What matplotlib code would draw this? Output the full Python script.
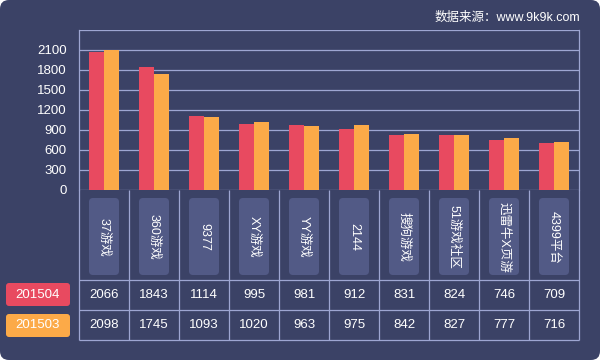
import matplotlib
matplotlib.use("Agg")
import matplotlib.pyplot as plt
from matplotlib.patches import FancyBboxPatch, Rectangle
import numpy as np

categories = ["37游戏", "360游戏", "9377", "XY游戏", "YY游戏", "2144", "搜狗游戏", "51游戏社区", "迅雷牛X页游", "4399平台"]
series_names = ["201504", "201503"]
values_201504 = [2066, 1843, 1114, 995, 981, 912, 831, 824, 746, 709]
values_201503 = [2098, 1745, 1093, 1020, 963, 975, 842, 827, 777, 716]
y_ticks = [0, 300, 600, 900, 1200, 1500, 1800, 2100]
source_text = "数据来源：www.9k9k.com"

BG = "#3b4266"
RED = "#e84a60"
ORANGE = "#fcaa48"
GRID = "#9ea6d2"
BOX = "#525a86"
FONT = ["Liberation Sans", "Noto Sans CJK SC", "DejaVu Sans"]
plt.rcParams["font.family"] = FONT

W, H = 600, 360
fig = plt.figure(figsize=(6, 3.6), dpi=100, facecolor="white")

# background axes in pixel coordinates
bg = fig.add_axes([0, 0, 1, 1])
bg.set_xlim(0, W)
bg.set_ylim(H, 0)
bg.axis("off")
bg.add_patch(FancyBboxPatch((0, 0), W, H, boxstyle="round,pad=0,rounding_size=9",
                            fc=BG, ec="none"))

L, R, TOP, BASE = 79, 579, 30, 190
ROW1, ROW2, ROW3 = 280, 310, 340
n = len(categories)
colw = (R - L) / n

# table lines
for yy in [ROW1, ROW2, ROW3]:
    bg.plot([L, R], [yy, yy], color=GRID, lw=0.9, solid_capstyle="butt")
for i in range(n + 1):
    x = L + i * colw
    bg.plot([x, x], [BASE, ROW3], color=GRID, lw=0.9, solid_capstyle="butt")

# category label boxes and texts
for i, cat in enumerate(categories):
    cx = L + (i + 0.5) * colw
    bg.add_patch(FancyBboxPatch((cx - 15, 198), 30, 77,
                                boxstyle="round,pad=0,rounding_size=4",
                                fc=BOX, ec="none"))
    bg.text(cx, 237, cat, rotation=-90, ha="center", va="center",
            color="white", fontsize=9, family=FONT)
    bg.text(cx, (ROW1 + ROW2) / 2, str(values_201504[i]), ha="center", va="center",
            color="white", fontsize=9.5)
    bg.text(cx, (ROW2 + ROW3) / 2, str(values_201503[i]), ha="center", va="center",
            color="white", fontsize=9.5)

# legend boxes
for (y0, col, name) in [(283, RED, series_names[0]), (314, ORANGE, series_names[1])]:
    bg.add_patch(FancyBboxPatch((6, y0), 64, 23, boxstyle="round,pad=0,rounding_size=3",
                                fc=col, ec="none"))
    bg.text(38, y0 + 11.5, name, ha="center", va="center", color="white", fontsize=9.5)

bg.text(580, 18, source_text, ha="right", va="center", color="white", fontsize=9,
        family=FONT)

# chart axes
ax = fig.add_axes([L / W, 1 - BASE / H, (R - L) / W, (BASE - TOP) / H])
ax.set_facecolor("none")
x = np.arange(n)
bw = 0.3
ax.bar(x - bw / 2, values_201504, width=bw, color=RED, zorder=3)
ax.bar(x + bw / 2, values_201503, width=bw, color=ORANGE, zorder=3)
ax.set_xlim(-0.5, n - 0.5)
ax.set_ylim(0, 2400)
ax.set_yticks(y_ticks)
ax.set_yticklabels([str(t) for t in y_ticks], color="white", fontsize=9.5)
ax.tick_params(axis="y", length=0, pad=9)
ax.set_xticks([])
for yv in y_ticks + [2400]:
    ax.axhline(yv, color=GRID, lw=0.9, zorder=1)
for s in ["top", "bottom"]:
    ax.spines[s].set_visible(False)
for s in ["left", "right"]:
    ax.spines[s].set_color(GRID)
    ax.spines[s].set_linewidth(0.9)

fig.savefig("out.png", dpi=100, facecolor="white")
